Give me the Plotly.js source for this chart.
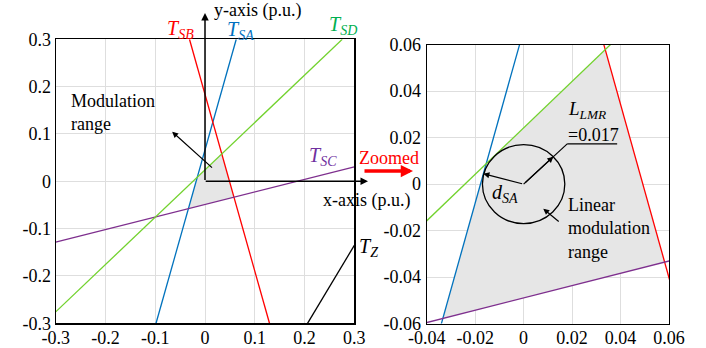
<!DOCTYPE html>
<html>
<head>
<meta charset="utf-8">
<script src="https://cdn.plot.ly/plotly-3.0.1.min.js"></script>
<style>html,body{margin:0;padding:0;background:#fff;}#chart{width:706px;height:348px;}</style>
</head>
<body>
<div id="chart"></div>
<script>
// ---- data ----
const saX = [-0.0984, 0.0628], saY = [-0.3, 0.3];      // T_SA (blue)
const sbX = [-0.0312, 0.1296], sbY = [0.3, -0.3];      // T_SB (red)
const scX = [-0.3, 0.3],       scY = [-0.1285, 0.0305]; // T_SC (purple)
const sdX = [-0.3, 0.2758],    sdY = [-0.2758, 0.3];   // T_SD (green)
const tzX = [0.206, 0.3],      tzY = [-0.3, -0.1355];  // T_Z (black)
const regionX = [-0.01544, 0.03368, 0.0582, -0.03334]; // linear modulation range vertices
const regionY = [0.00876, 0.05788, -0.03358, -0.05784];
const circleR = 0.017;                                  // L_LMR
const dsaFoot = [-0.0166, 0.00446];                     // tangent point on T_SA

const leftTicks = [-0.3, -0.2, -0.1, 0, 0.1, 0.2, 0.3];
const leftTickText = ['-0.3', '-0.2', '-0.1', '0', '0.1', '0.2', '0.3'];
const rightXTicks = [-0.04, -0.02, 0, 0.02, 0.04, 0.06];
const rightXText = ['-0.04', '-0.02', '0', '0.02', '0.04', '0.06'];
const rightYTicks = [-0.06, -0.04, -0.02, 0, 0.02, 0.04, 0.06];
const rightYText = ['-0.06', '-0.04', '-0.02', '0', '0.02', '0.04', '0.06'];

// ---- styling ----
const FONT = 'Liberation Serif, Times New Roman, serif';
const W = 706, H = 348;
const px = v => v / W, py = v => 1 - v / H;

const lines = [
  {x: saX, y: saY, c: '#0072BD'},
  {x: sbX, y: sbY, c: '#FF0000'},
  {x: scX, y: scY, c: '#7E2F8E'},
  {x: sdX, y: sdY, c: '#72D22E'},
  {x: tzX, y: tzY, c: '#000000'}
];

const traces = [];
[['x', 'y'], ['x2', 'y2']].forEach(([xa, ya]) => {
  traces.push({
    x: regionX.concat([regionX[0]]), y: regionY.concat([regionY[0]]),
    xaxis: xa, yaxis: ya, mode: 'lines', fill: 'toself',
    fillcolor: '#e6e6e6', line: {width: 0, color: 'rgba(0,0,0,0)'}
  });
  lines.forEach(l => traces.push({
    x: l.x, y: l.y, xaxis: xa, yaxis: ya, mode: 'lines',
    line: {color: l.c, width: 1.3}
  }));
});

const axBase = {
  showgrid: true, gridcolor: '#dedede', gridwidth: 1, zeroline: false,
  showline: true, mirror: true, linecolor: '#000', linewidth: 1.2,
  ticks: '', tickmode: 'array', fixedrange: true,
  tickfont: {family: FONT, size: 18, color: '#000'}
};

const lab = (text, x, y, color, opts, size) => Object.assign({
  text: text, xref: 'paper', yref: 'paper', x: x, y: y, showarrow: false,
  xanchor: 'center', yanchor: 'middle',
  font: {family: FONT, size: size || 18, color: color || '#000'}
}, opts || {});

const arrow = (o) => Object.assign({
  text: '', showarrow: true, arrowhead: 2, arrowsize: 1, arrowwidth: 1.2,
  arrowcolor: '#000', standoff: 0, startstandoff: 0
}, o);

const annotations = [
  lab('<i>T</i><sub><i>SB</i></sub>', px(180), py(29), '#FF0000', {}, 20),
  lab('<i>T</i><sub><i>SA</i></sub>', px(241), py(31), '#0070C0', {}, 20),
  lab('<i>T</i><sub><i>SD</i></sub>', px(343), py(26), '#00B050', {}, 20),
  lab('<i>T</i><sub><i>SC</i></sub>', px(323), py(157), '#7030A0', {}, 20),
  lab('<i>T</i><sub><i>Z</i></sub>', px(369), py(247), '#000', {}, 20),
  lab('y-axis (p.u.)', px(212), py(10), '#000', {xanchor: 'left'}),
  lab('x-axis (p.u.)', px(366), py(200), '#000'),
  lab('Modulation<br>range', px(69), py(112.5), '#000', {xanchor: 'left', align: 'left'}),
  lab('Zoomed', px(389), py(158), '#FF0000'),
  lab('<i>L</i><sub><i>LMR</i></sub>', px(566), py(110), '#000', {xanchor: 'left'}, 19),
  lab('=0.017', px(566), py(135), '#000', {xanchor: 'left'}),
  lab('Linear<br>modulation<br>range', px(566), py(228), '#000', {xanchor: 'left', align: 'left'}),
  lab('<i>d</i><sub><i>SA</i></sub>', px(505), py(193), '#000', {}, 20),
  // axis arrows of the left plot
  arrow({xref: 'x', yref: 'paper', x: 0, y: py(13), axref: 'pixel', ayref: 'pixel', ax: 0, ay: 168.5, arrowwidth: 1.5}),
  arrow({xref: 'paper', yref: 'y', x: px(368), y: 0, axref: 'pixel', ayref: 'pixel', ax: -163.8, ay: 0, arrowwidth: 1.5}),
  // modulation range arrow
  arrow({xref: 'x', yref: 'y', x: -0.066, y: 0.1048, axref: 'x', ayref: 'y', ax: 0.0171, ay: 0.026}),
  // zoomed red arrow
  arrow({xref: 'paper', yref: 'paper', x: px(413), y: py(171), axref: 'pixel', ayref: 'pixel', ax: -50, ay: 0, arrowcolor: '#FF0000', arrowwidth: 3.5, arrowsize: 0.7}),
  // d_SA arrow
  arrow({xref: 'x2', yref: 'y2', x: dsaFoot[0], y: dsaFoot[1], axref: 'x2', ayref: 'y2', ax: 0, ay: 0}),
  // L_LMR arrow to circle edge
  arrow({xref: 'x2', yref: 'y2', x: circleR * 0.7206, y: circleR * 0.6934, axref: 'x2', ayref: 'y2', ax: 0, ay: 0}),
  // linear modulation range arrow
  arrow({xref: 'x2', yref: 'y2', x: 0.0081, y: -0.0106, axref: 'x2', ayref: 'y2', ax: 0.0151, ay: -0.01665})
];

const shapes = [
  {type: 'circle', xref: 'x2', yref: 'y2', x0: -circleR, x1: circleR, y0: -circleR, y1: circleR,
   line: {color: '#000', width: 1.3}},
  {type: 'line', xref: 'x2', yref: 'y2', x0: 0, y0: 0, x1: 0.018, y1: 0.0173, line: {color: '#000', width: 1.2}},
  {type: 'line', xref: 'x2', yref: 'y2', x0: 0.018, y0: 0.0173, x1: 0.0386, y1: 0.0173, line: {color: '#000', width: 1.2}}
];

const layout = {
  width: W, height: H, margin: {l: 0, r: 0, t: 0, b: 0},
  paper_bgcolor: '#fff', plot_bgcolor: '#fff', showlegend: false, hovermode: false,
  xaxis: Object.assign({}, axBase, {domain: [px(55.7), px(354.3)], range: [-0.3, 0.3], anchor: 'y', tickvals: leftTicks, ticktext: leftTickText, ticklabelstandoff: -2}),
  yaxis: Object.assign({}, axBase, {domain: [py(323.3), py(39.3)], range: [-0.3, 0.3], anchor: 'x', tickvals: leftTicks, ticktext: leftTickText}),
  xaxis2: Object.assign({}, axBase, {domain: [px(426.7), px(669)], range: [-0.04, 0.06], anchor: 'y2', tickvals: rightXTicks, ticktext: rightXText, ticklabelstandoff: -2}),
  yaxis2: Object.assign({}, axBase, {domain: [py(323.5), py(44.7)], range: [-0.06, 0.06], anchor: 'x2', tickvals: rightYTicks, ticktext: rightYText, ticklabelstandoff: 1}),
  annotations: annotations,
  shapes: shapes
};

Plotly.newPlot('chart', traces, layout, {staticPlot: true, displayModeBar: false});
</script>
</body>
</html>
